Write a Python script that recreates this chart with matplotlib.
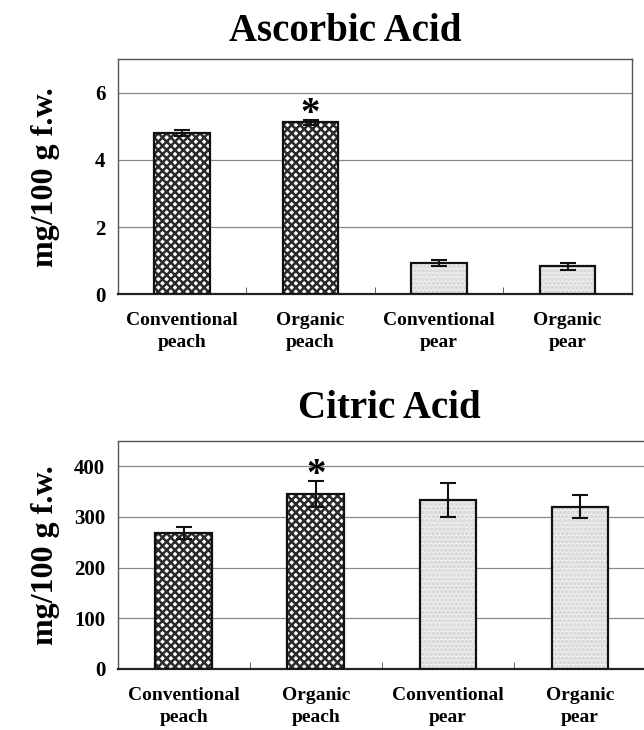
import numpy as np
import matplotlib
matplotlib.use("Agg")
import matplotlib.pyplot as plt

# Data
categories = ["Conventional\npeach", "Organic\npeach", "Conventional\npear", "Organic\npear"]
ascorbic = [4.8, 5.12, 0.93, 0.83]
ascorbic_err = [0.08, 0.08, 0.1, 0.1]
citric = [268, 345, 333, 320]
citric_err = [12, 25, 33, 23]
signif = [False, True, False, False]

plt.rcParams['font.family'] = ['Liberation Serif', 'DejaVu Serif']
plt.rcParams['font.weight'] = 'bold'
plt.rcParams['hatch.linewidth'] = 1.8

fig = plt.figure(figsize=(6.44, 7.30), dpi=100)
ax1 = fig.add_axes([0.183, 0.597, 0.798, 0.322])
ax2 = fig.add_axes([0.183, 0.0836, 0.82, 0.3124])


def draw_panel(ax, vals, errs, ymax, yticks, star_off):
    x = np.arange(len(vals))
    for i, (v, e) in enumerate(zip(vals, errs)):
        if i < 2:
            ax.bar(x[i], v, width=0.43, facecolor='white', edgecolor='#2a2a2a',
                   hatch='xxxx', linewidth=0, zorder=3)
        else:
            ax.bar(x[i], v, width=0.43, facecolor='#f1f1f1', edgecolor='#cfcfcf',
                   hatch='....', linewidth=0, zorder=3)
        ax.bar(x[i], v, width=0.43, facecolor='none', edgecolor='#111111',
               linewidth=1.6, zorder=4)
        ax.errorbar(x[i], v, yerr=e, color='#111111', capsize=6, elinewidth=1.5,
                    capthick=1.5, zorder=5)
        if signif[i]:
            ax.text(x[i], v + e + star_off, '*', ha='center', va='center',
                    fontsize=28, fontweight='bold', zorder=6)
    ax.set_xlim(-0.5, len(vals) - 0.5)
    ax.set_ylim(0, ymax)
    ax.set_yticks(yticks)
    ax.yaxis.grid(True, color='#888888', linewidth=0.9)
    ax.set_axisbelow(True)
    ax.set_xticks(x)
    ax.set_xticklabels(categories, fontsize=14, fontweight='bold', linespacing=1.4)
    ax.set_xticks(np.arange(0.5, len(vals) - 1), minor=True)
    ax.tick_params(axis='x', which='major', length=0, pad=13)
    ax.tick_params(axis='x', which='minor', direction='in', length=5, color='#444444')
    ax.tick_params(axis='y', length=0, pad=9, labelsize=15)
    for s in ax.spines.values():
        s.set_color('#555555')
        s.set_linewidth(1.0)
    ax.spines['bottom'].set_linewidth(1.6)
    ax.spines['bottom'].set_color('#222222')
    ax.set_ylabel('mg/100 g f.w.', fontsize=23, fontweight='bold')
    ax.yaxis.set_label_coords(-58.0 / (ax.get_position().width * 644), 0.5)


draw_panel(ax1, ascorbic, ascorbic_err, 7, [0, 2, 4, 6], 0.15)
draw_panel(ax2, citric, citric_err, 450, [0, 100, 200, 300, 400], 12)

fig.text(0.536, 0.957, 'Ascorbic Acid', ha='center', va='center', fontsize=28, fontweight='bold')
fig.text(0.605, 0.44, 'Citric Acid', ha='center', va='center', fontsize=28, fontweight='bold')

fig.savefig('out.png', dpi=100, facecolor='white')
